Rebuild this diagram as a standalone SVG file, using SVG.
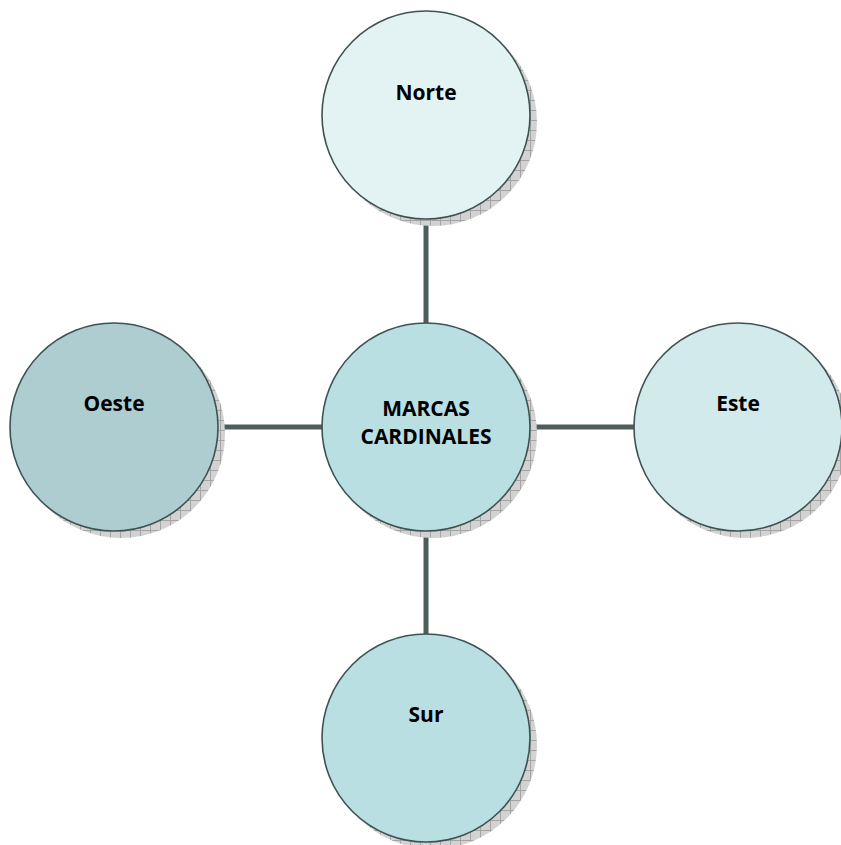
<svg xmlns="http://www.w3.org/2000/svg" width="841" height="845" viewBox="0 0 841 845">
<defs>
<pattern id="hatch" width="10" height="10" patternUnits="userSpaceOnUse">
<rect width="10" height="10" fill="#d2d2d2"/>
<path d="M0 0.5H10M0.5 0V10" stroke="#a4a4a4" stroke-width="1"/>
</pattern>
</defs>
<style>
.sh{fill:url(#hatch);}
.nd{stroke:#3e5252;stroke-width:1.6;}
.lb{font-family:"Open Sans","DejaVu Sans",sans-serif;font-weight:bold;font-size:21px;fill:#000;text-anchor:middle;}
.cn{stroke:#4e5c5c;stroke-width:5;fill:none;}
</style>
<g id="connectors">
<path class="cn" d="M426 218V323M426 531V635M218 427H323M530 427H635"/>
</g>
<g id="norte">
<circle class="sh" cx="433" cy="122" r="104"/>
<circle class="nd" cx="426" cy="115" r="104" fill="#e3f3f4"/>
<text class="lb" x="426" y="100">Norte</text>
</g>
<g id="centro">
<circle class="sh" cx="433" cy="434" r="104"/>
<circle class="nd" cx="426" cy="427" r="104" fill="#b9dfe3"/>
<text class="lb" x="426" y="416">MARCAS</text>
<text class="lb" x="426" y="444">CARDINALES</text>
</g>
<g id="oeste">
<circle class="sh" cx="121" cy="434" r="104"/>
<circle class="nd" cx="114" cy="427" r="104" fill="#aecdd1"/>
<text class="lb" x="114" y="411">Oeste</text>
</g>
<g id="este">
<circle class="sh" cx="745" cy="434" r="104"/>
<circle class="nd" cx="738" cy="427" r="104" fill="#d3eaec"/>
<text class="lb" x="738" y="411">Este</text>
</g>
<g id="sur">
<circle class="sh" cx="433" cy="745" r="104"/>
<circle class="nd" cx="426" cy="738" r="104" fill="#b9dfe3"/>
<text class="lb" x="426" y="722">Sur</text>
</g>
</svg>
